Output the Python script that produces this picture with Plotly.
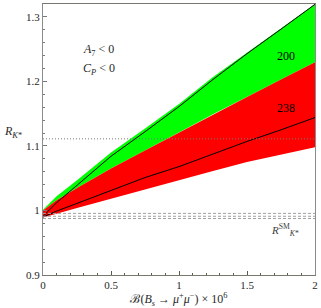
import plotly.graph_objects as go

# Branching ratio B(Bs -> mu+ mu-) x 10^6
x_vals = [0, 0.1, 0.25, 0.5, 0.75, 1.0, 1.25, 1.5, 1.75, 2.0]
# upper edge of green band
green_top = [1.001, 1.022, 1.047, 1.090, 1.127, 1.165, 1.207, 1.245, 1.282, 1.320]
# black curve labelled "200"
line_200 = [0.991, 1.012, 1.039, 1.084, 1.122, 1.161, 1.203, 1.243, 1.281, 1.3195]
# boundary green/red
red_top = [1.000, 1.016, 1.035, 1.065, 1.093, 1.121, 1.149, 1.176, 1.203, 1.2297]
# black curve labelled "238"
line_238 = [0.990, 0.999, 1.011, 1.031, 1.051, 1.068, 1.088, 1.107, 1.125, 1.144]
# lower edge of red band
red_bottom = [0.989, 0.995, 1.004, 1.018, 1.033, 1.047, 1.061, 1.075, 1.087, 1.098]

# SM prediction (central and band) and experimental line
sm_lines = [0.9955, 0.991, 0.9875]
exp_line = 1.111

x_ticks = [0, 0.5, 1, 1.5, 2]
x_ticklabels = ["0", "0.5", "1", "1.5", "2"]
y_ticks = [0.9, 1.0, 1.1, 1.2, 1.3]
y_ticklabels = ["0.9", "1", "1.1", "1.2", "1.3"]

SERIF = "Liberation Serif"

fig = go.Figure()

# green band
fig.add_trace(go.Scatter(
    x=x_vals + x_vals[::-1], y=green_top + red_top[::-1],
    fill="toself", fillcolor="rgb(0,255,0)", line=dict(width=0),
    mode="lines", hoverinfo="skip", showlegend=False))
# red band
fig.add_trace(go.Scatter(
    x=x_vals + x_vals[::-1], y=red_top + red_bottom[::-1],
    fill="toself", fillcolor="rgb(255,0,0)", line=dict(width=0),
    mode="lines", hoverinfo="skip", showlegend=False))
# black curves
for ys in (line_200, line_238):
    fig.add_trace(go.Scatter(x=x_vals, y=ys, mode="lines",
                             line=dict(color="black", width=1), showlegend=False))
# SM dashed lines
for yv in sm_lines:
    fig.add_trace(go.Scatter(x=[0, 2], y=[yv, yv], mode="lines",
                             line=dict(color="rgb(160,160,160)", width=1, dash="3px,2px"),
                             showlegend=False))
# experimental dotted line
fig.add_trace(go.Scatter(x=[0, 2], y=[exp_line, exp_line], mode="lines",
                         line=dict(color="rgb(120,120,120)", width=1, dash="1px,2px"),
                         showlegend=False))

ann_font = dict(family=SERIF, size=12, color="black")
fig.add_annotation(x=1.789, y=1.24, text="200", showarrow=False, font=ann_font)
fig.add_annotation(x=1.789, y=1.159, text="238", showarrow=False, font=ann_font)
fig.add_annotation(x=0.41, y=1.248, text="<i>A</i><sub>7</sub> &lt; 0", showarrow=False,
                   font=dict(family=SERIF, size=12, color="rgb(40,40,40)"))
fig.add_annotation(x=0.41, y=1.219, text="<i>C<sub>P</sub></i> &lt; 0", showarrow=False,
                   font=dict(family=SERIF, size=12, color="rgb(40,40,40)"))
fig.add_annotation(x=1.78, y=0.970, text="<i>R</i><sup>SM</sup><sub><i>K</i>*</sub>",
                   showarrow=False, font=dict(family=SERIF, size=11, color="rgb(60,60,60)"))
fig.add_annotation(xref="paper", x=-0.07, xanchor="right", y=1.121,
                   text="<i>R</i><sub><i>K</i>*</sub>",
                   showarrow=False, font=dict(family=SERIF, size=12, color="rgb(40,40,40)"))

fig.update_layout(
    width=321, height=308,
    margin=dict(l=43, r=3, t=3, b=31),
    paper_bgcolor="white", plot_bgcolor="white",
    font=dict(family=SERIF, size=11, color="rgb(40,40,40)"),
    xaxis=dict(range=[0, 2], tickvals=x_ticks, ticktext=x_ticklabels,
               ticks="inside", ticklen=4, tickcolor="rgb(90,90,70)",
               showgrid=False, zeroline=False, showline=True, mirror=True,
               linecolor="rgb(120,120,110)", linewidth=1,
               minor=dict(dtick=0.1, ticks="inside", ticklen=2, tickcolor="rgb(90,90,70)"),
               title=dict(text="ℬ(<i>B<sub>s</sub></i> → <i>μ</i><sup>+</sup><i>μ</i><sup>−</sup>) × 10<sup>6</sup>",
                          font=dict(family=SERIF, size=12, color="rgb(40,40,40)"), standoff=5)),
    yaxis=dict(range=[0.9, 1.32], tickvals=y_ticks, ticktext=y_ticklabels,
               ticks="inside", ticklen=4, tickcolor="rgb(120,120,120)",
               showgrid=False, zeroline=False, showline=True, mirror=True,
               linecolor="rgb(140,140,140)", linewidth=1,
               minor=dict(dtick=0.02, ticks="inside", ticklen=2, tickcolor="rgb(120,120,120)")),
)

fig.write_html("out.html", config={"displayModeBar": False},
               post_script="document.body.style.margin='0';document.body.style.overflow='hidden';")
